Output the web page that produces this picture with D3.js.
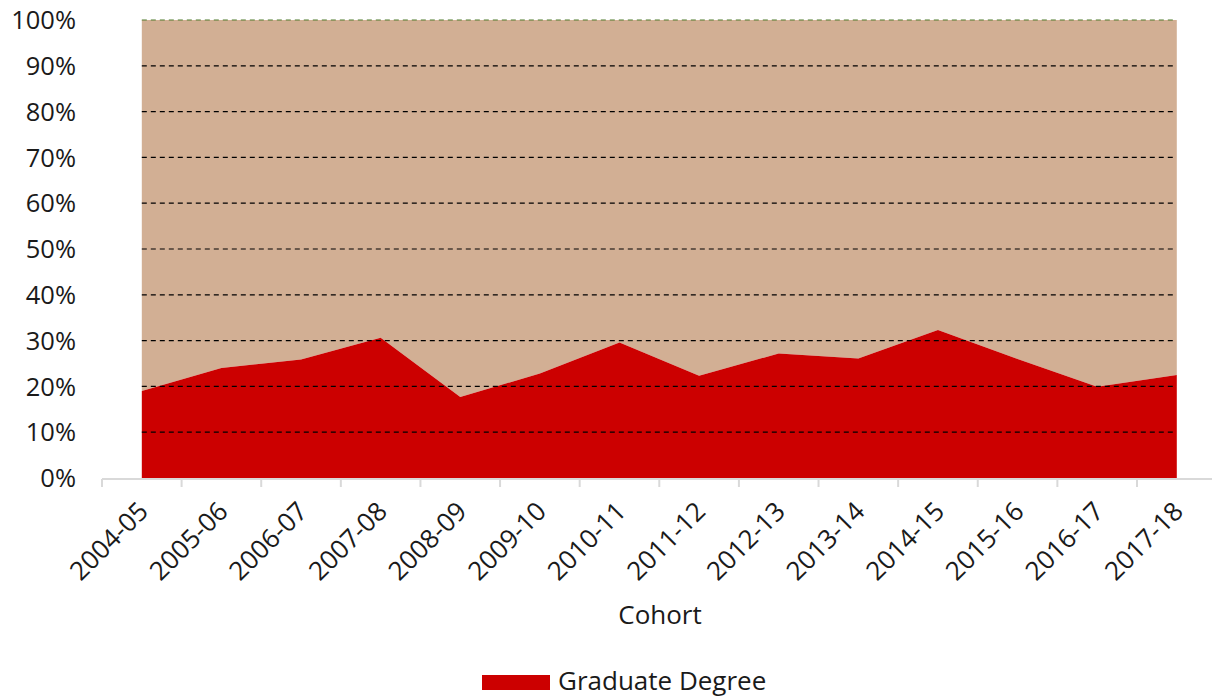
<!DOCTYPE html>
<html>
<head>
<style type="text/css">
body { margin: 0; background: #fff; }
text { font-family: "Open Sans", Lato, sans-serif; fill: #1a1a1a; }
.grid line { stroke: #000; stroke-width: 1.2; stroke-dasharray: 5,4; }
</style>
<script src="https://d3js.org/d3.v7.min.js"></script>
</head>
<body>
<script type="text/javascript">
var cohorts = ["2004-05","2005-06","2006-07","2007-08","2008-09","2009-10","2010-11",
	"2011-12","2012-13","2013-14","2014-15","2015-16","2016-17","2017-18"];
var graduate = [19.0, 24.0, 25.9, 30.6, 17.7, 22.8, 29.6, 22.3, 27.2, 26.1, 32.3, 26.0, 19.9, 22.5];
var yTicks = [0,10,20,30,40,50,60,70,80,90,100];

var width = 1212, height = 698;
var svg = d3.select("body").append("svg").attr("width", width).attr("height", height);

var x = d3.scaleBand().domain(cohorts).range([102, 1216.6]);
var y = d3.scaleLinear().domain([0, 100]).range([478, 20]);
var cx = function(d) { return x(d) + x.bandwidth() / 2; };

// other (rest to 100%)
var rest = d3.area()
	.x(function(d, i) { return cx(cohorts[i]); })
	.y0(function(d) { return y(d); })
	.y1(y(100));
svg.append("path").datum(graduate).attr("fill", "#d2af94").attr("d", rest);

var grad = d3.area()
	.x(function(d, i) { return cx(cohorts[i]); })
	.y0(y(0))
	.y1(function(d) { return y(d); });
svg.append("path").datum(graduate).attr("fill", "#cc0000").attr("d", grad);

// gridlines
var x0 = cx(cohorts[0]), x1 = cx(cohorts[cohorts.length - 1]);
svg.append("g").attr("class", "grid")
	.selectAll("line").data(yTicks.filter(function(t) { return t > 0; })).enter()
	.append("line")
	.attr("x1", x0).attr("x2", x1)
	.attr("y1", function(d) { return y(d); }).attr("y2", function(d) { return y(d); })
	.style("stroke", function(d) { return d == 100 ? "#4f7a2c" : "#000"; });

// y labels
svg.append("g").selectAll("text").data(yTicks).enter().append("text")
	.attr("x", 76).attr("y", function(d) { return y(d); })
	.attr("dy", "0.36em").attr("text-anchor", "end")
	.style("font-size", "25.5px")
	.text(function(d) { return d + "%"; });

// x axis
var xa = svg.append("g");
xa.append("line").attr("x1", 102).attr("x2", width).attr("y1", 479).attr("y2", 479)
	.attr("stroke", "#d9d9d9").attr("stroke-width", 2);
xa.selectAll(".tk").data(cohorts).enter().append("line")
	.attr("x1", function(d) { return x(d); }).attr("x2", function(d) { return x(d); })
	.attr("y1", 479).attr("y2", 487)
	.attr("stroke", "#d9d9d9").attr("stroke-width", 2);
xa.selectAll(".lb").data(cohorts).enter().append("text")
	.attr("text-anchor", "end")
	.attr("transform", function(d) { return "translate(" + (cx(d) + 8) + ",513) rotate(-45)"; })
	.style("font-size", "26px")
	.text(function(d) { return d; });

svg.append("text").attr("x", 660).attr("y", 624).attr("text-anchor", "middle")
	.style("font-size", "26px").text("Cohort");

// legend
svg.append("rect").attr("x", 482).attr("y", 675).attr("width", 68).attr("height", 15).attr("fill", "#cc0000");
svg.append("text").attr("x", 558).attr("y", 690).style("font-size", "26px").text("Graduate Degree");
</script>
</body>
</html>
